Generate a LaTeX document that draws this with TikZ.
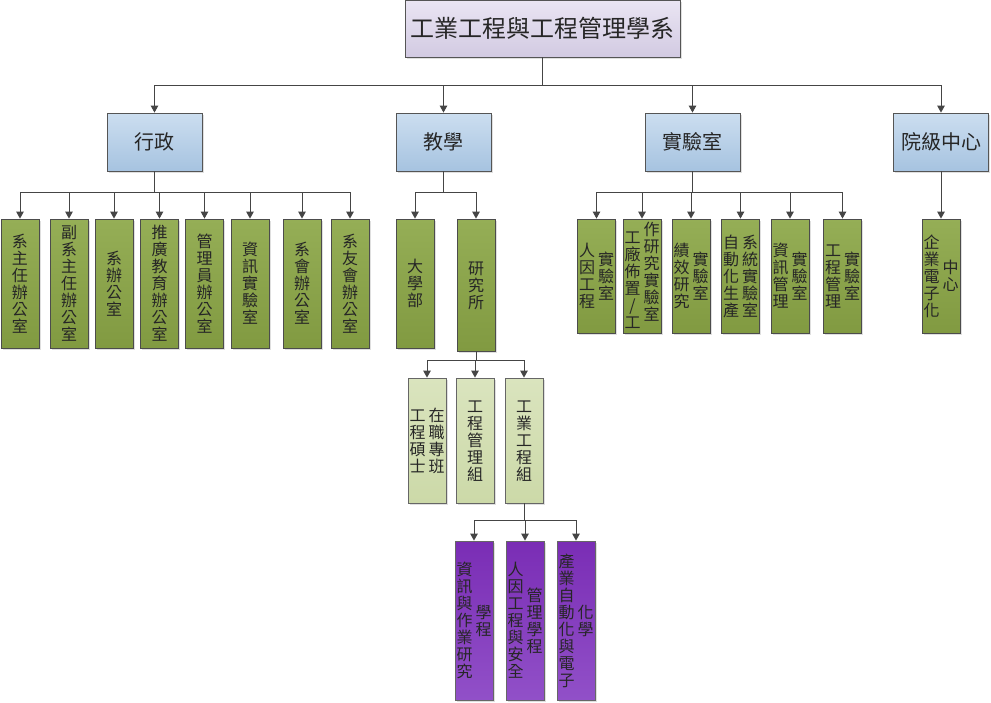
\documentclass[tikz,border=0pt]{standalone}
\usepackage{fontspec}
\usepackage{array}
\newfontfamily\cjk{Noto Sans CJK TC}
\usetikzlibrary{arrows.meta,shadows}

\definecolor{edgeclr}{HTML}{454545}
\definecolor{boxline}{HTML}{555555}
\definecolor{headtop}{HTML}{EAE5F3}
\definecolor{headbot}{HTML}{D2CAE2}
\definecolor{depttop}{HTML}{CCDEF0}
\definecolor{deptbot}{HTML}{A6C3E0}
\definecolor{unittop}{HTML}{95AE56}
\definecolor{unitbot}{HTML}{819A41}
\definecolor{grouptop}{HTML}{DAE4BE}
\definecolor{groupbot}{HTML}{CCD9A8}
\definecolor{progtop}{HTML}{7A2DB5}
\definecolor{progbot}{HTML}{9150C8}

% one vertical column of characters, 17pt per character
\newcommand{\vcol}[1]{{\renewcommand{\arraystretch}{0}%
    \begin{tabular}{@{}>{\rule[-2.4pt]{0pt}{17pt}}c@{}}#1\end{tabular}}}

\begin{document}
\begin{tikzpicture}[x=1pt,y=-1pt,
    box/.style={draw=boxline,line width=0.8pt,inner sep=0pt,text=black!85,
        font=\cjk\fontsize{16}{17}\selectfont,
        drop shadow={shadow xshift=1.5pt,shadow yshift=-1.5pt,opacity=0.25}},
    head/.style={box,minimum width=275pt,minimum height=57pt,top color=headtop,bottom color=headbot,
        font=\cjk\fontsize{24}{28}\selectfont},
    dept/.style={box,minimum width=95pt,minimum height=58pt,top color=depttop,bottom color=deptbot,
        font=\cjk\fontsize{20}{24}\selectfont},
    unit/.style={box,minimum width=38pt,minimum height=129pt,top color=unittop,bottom color=unitbot,draw=black!70},
    labunit/.style={unit,minimum height=114pt},
    group/.style={box,minimum width=38pt,minimum height=125pt,top color=grouptop,bottom color=groupbot,draw=black!60},
    prog/.style={box,minimum width=38pt,minimum height=159pt,top color=progtop,bottom color=progbot,draw=black!60},
    conn/.style={draw=edgeclr,line width=1pt,-{Triangle[length=7pt,width=7.5pt]}}]

    \useasboundingbox (0,0) rectangle (991,702);

    % top
    \node[head] (dept) at (542.5,28.5) {工業工程與工程管理學系};

    % second level
    \node[dept] (adm) at (154.5,142) {行政};
    \node[dept] (edu) at (443.5,142) {教學};
    \node[dept] (lab) at (692.5,142) {實驗室};
    \node[dept] (ctr) at (941,142) {院級中心};

    % administration
    \node[unit] (a1) at (20,283.5)  {\vcol{系\\主\\任\\辦\\公\\室}};
    \node[unit] (a2) at (69,283.5)  {\vcol{副\\系\\主\\任\\辦\\公\\室}};
    \node[unit] (a3) at (114,283.5) {\vcol{系\\辦\\公\\室}};
    \node[unit] (a4) at (159.5,283.5) {\vcol{推\\廣\\教\\育\\辦\\公\\室}};
    \node[unit] (a5) at (204.5,283.5) {\vcol{管\\理\\員\\辦\\公\\室}};
    \node[unit] (a6) at (250,283.5) {\vcol{資\\訊\\實\\驗\\室}};
    \node[unit] (a7) at (302,283.5) {\vcol{系\\會\\辦\\公\\室}};
    \node[unit] (a8) at (350,283.5) {\vcol{系\\友\\會\\辦\\公\\室}};

    % teaching
    \node[unit] (e1) at (415,283.5) {\vcol{大\\學\\部}};
    \node[unit,minimum height=132pt] (e2) at (476,285) {\vcol{研\\究\\所}};

    \node[group] (g1) at (427,440.5) {\vcol{工\\程\\碩\\士}\hspace{3pt}\vcol{在\\職\\專\\班}};
    \node[group] (g2) at (475,440.5) {\vcol{工\\程\\管\\理\\組}};
    \node[group] (g3) at (524,440.5) {\vcol{工\\業\\工\\程\\組}};

    \node[prog] (p1) at (474,620.5) {\vcol{資\\訊\\與\\作\\業\\研\\究}\hspace{3pt}\vcol{學\\程}};
    \node[prog] (p2) at (525,620.5) {\vcol{人\\因\\工\\程\\與\\安\\全}\hspace{3pt}\vcol{管\\理\\學\\程}};
    \node[prog] (p3) at (576,620.5) {\vcol{產\\業\\自\\動\\化\\與\\電\\子}\hspace{3pt}\vcol{化\\學}};

    % laboratories
    \node[labunit] (l1) at (596.5,276) {\vcol{人\\因\\工\\程}\hspace{3pt}\vcol{實\\驗\\室}};
    \node[labunit] (l2) at (642,276) {\raisebox{-8pt}{\vcol{工\\廠\\佈\\置\\/\\工}}\hspace{3pt}\vcol{作\\研\\究\\實\\驗\\室}};
    \node[labunit] (l3) at (691,276) {\vcol{績\\效\\研\\究}\hspace{3pt}\vcol{實\\驗\\室}};
    \node[labunit] (l4) at (740.5,276) {\vcol{自\\動\\化\\生\\產}\hspace{3pt}\vcol{系\\統\\實\\驗\\室}};
    \node[labunit] (l5) at (790,276) {\vcol{資\\訊\\管\\理}\hspace{3pt}\vcol{實\\驗\\室}};
    \node[labunit] (l6) at (842.5,276) {\vcol{工\\程\\管\\理}\hspace{3pt}\vcol{實\\驗\\室}};

    % college centre
    \node[labunit] (c1) at (941,276) {\vcol{企\\業\\電\\子\\化}\hspace{3pt}\vcol{中\\心}};

    % connectors
    \foreach \n in {adm,edu,lab,ctr}
        \draw[conn] (dept.south) -- ++(0,28) -| (\n.north);
    \foreach \n in {a1,a2,a3,a4,a5,a6,a7,a8}
        \draw[conn] (adm.south) -- ++(0,21) -| (\n.north);
    \foreach \n in {e1,e2}
        \draw[conn] (edu.south) -- ++(0,21) -| (\n.north);
    \foreach \n in {l1,l2,l3,l4,l5,l6}
        \draw[conn] (lab.south) -- ++(0,21) -| (\n.north);
    \draw[conn] (ctr.south) -- (c1.north);
    \foreach \n in {g1,g2,g3}
        \draw[conn] (e2.south) -- ++(0,9) -| (\n.north);
    \foreach \n in {p1,p2,p3}
        \draw[conn] (g3.south) -- ++(0,17) -| (\n.north);
\end{tikzpicture}
\end{document}
